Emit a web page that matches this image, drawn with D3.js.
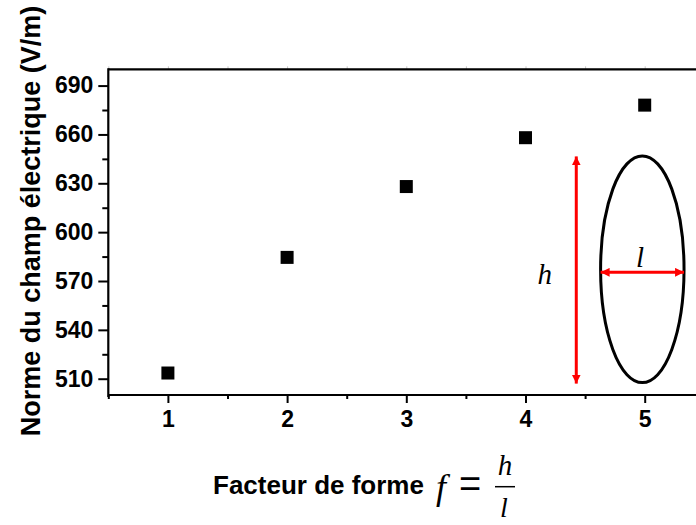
<!DOCTYPE html>
<html>
<head>
<meta charset="utf-8">
<script src="https://cdn.jsdelivr.net/npm/d3@7"></script>
<style>
  body { margin: 0; background: #fff; }
  text { font-family: "Liberation Sans", Arial, sans-serif; }
  .math { font-family: "Liberation Serif", "Times New Roman", serif; font-style: italic; }
</style>
</head>
<body>
<svg id="chart" width="696" height="525"></svg>
<script>
// data
var factors = [1, 2, 3, 4, 5];
var fieldNorm = [513.5, 584.5, 628, 658, 678];
var xTicks = [1, 2, 3, 4, 5];
var xMinor = [0.5, 1.5, 2.5, 3.5, 4.5, 5.5];
var yTicks = [510, 540, 570, 600, 630, 660, 690];
var yMinor = [525, 555, 585, 615, 645, 675];

document.addEventListener("DOMContentLoaded", function(event) {
  var svg = d3.select("#chart");
  var left = 108.3, right = 704.3, top = 69.3, bottom = 395;

  var x = d3.scaleLinear().domain([0.5, 5.5]).range([left, right]);
  var y = d3.scaleLinear().domain([500, 700]).range([bottom, top]);

  // arrow head for the ellipse sketch
  svg.append("defs").append("marker")
    .attr("id", "head")
    .attr("markerUnits", "userSpaceOnUse")
    .attr("markerWidth", 10).attr("markerHeight", 9)
    .attr("refX", 9).attr("refY", 4.5)
    .attr("orient", "auto-start-reverse")
    .append("path")
    .attr("d", "M0,0 L9,4.5 L0,9 z")
    .attr("fill", "#ff0000");

  // bottom axis, major then minor ticks
  var xAxis = svg.append("g")
    .attr("transform", "translate(0," + bottom + ")")
    .call(d3.axisBottom(x).tickValues(xTicks).tickSize(8).tickPadding(8).tickFormat(d3.format("d")));
  xAxis.select(".domain").remove();
  xAxis.selectAll("line").attr("stroke-width", 2);
  xAxis.selectAll("text")
    .attr("font-size", 23).attr("font-weight", "bold")
    .attr("font-family", "Liberation Sans, Arial, sans-serif").attr("fill", "#000");

  var xAxisMinor = svg.append("g")
    .attr("transform", "translate(0," + bottom + ")")
    .call(d3.axisBottom(x).tickValues(xMinor).tickSize(4).tickFormat(""));
  xAxisMinor.select(".domain").remove();
  xAxisMinor.selectAll("line").attr("stroke-width", 2);

  // left axis
  var yAxis = svg.append("g")
    .attr("transform", "translate(" + left + ",0)")
    .call(d3.axisLeft(y).tickValues(yTicks).tickSize(10).tickPadding(5));
  yAxis.select(".domain").remove();
  yAxis.selectAll("line").attr("stroke-width", 2);
  yAxis.selectAll("text")
    .attr("font-size", 23).attr("font-weight", "bold")
    .attr("font-family", "Liberation Sans, Arial, sans-serif").attr("fill", "#000");

  var yAxisMinor = svg.append("g")
    .attr("transform", "translate(" + left + ",0)")
    .call(d3.axisLeft(y).tickValues(yMinor).tickSize(6).tickFormat(""));
  yAxisMinor.select(".domain").remove();
  yAxisMinor.selectAll("line").attr("stroke-width", 2);

  // faint ticks on the top edge
  var topTicks = svg.append("g")
    .attr("transform", "translate(0," + top + ")")
    .call(d3.axisTop(x).tickValues(xMinor.concat(xTicks)).tickSize(3).tickFormat(""));
  topTicks.select(".domain").remove();
  topTicks.selectAll("line").attr("stroke", "#c8c8c8");

  // frame lines
  svg.append("line")
    .attr("x1", left).attr("x2", right).attr("y1", bottom).attr("y2", bottom)
    .attr("stroke", "#000").attr("stroke-width", 2.2);
  svg.append("line")
    .attr("x1", left).attr("x2", right).attr("y1", top).attr("y2", top)
    .attr("stroke", "#000").attr("stroke-width", 2.2);
  svg.append("line")
    .attr("x1", left).attr("x2", left).attr("y1", top - 1).attr("y2", bottom + 2)
    .attr("stroke", "#000").attr("stroke-width", 2.2);

  // the points
  svg.selectAll(".pt")
    .data(factors)
    .enter()
    .append("rect")
    .attr("class", "pt")
    .attr("x", function(d) { return x(d) - 6.5; })
    .attr("y", function(d, i) { return y(fieldNorm[i]) - 6.5; })
    .attr("width", 13)
    .attr("height", 13)
    .attr("fill", "#000");

  // ellipse sketch with h and l
  var cx = 4.98, cy = 577.2, rx = 0.35, ry = 69.6;
  svg.append("ellipse")
    .attr("cx", x(cx)).attr("cy", y(cy))
    .attr("rx", x(cx + rx) - x(cx)).attr("ry", y(cy - ry) - y(cy))
    .attr("fill", "none").attr("stroke", "#000").attr("stroke-width", 3);

  svg.append("line")
    .attr("x1", x(4.426)).attr("x2", x(4.426))
    .attr("y1", y(646.5)).attr("y2", y(507))
    .attr("stroke", "#ff0000").attr("stroke-width", 3)
    .attr("marker-start", "url(#head)").attr("marker-end", "url(#head)");

  svg.append("line")
    .attr("x1", x(cx - rx)).attr("x2", x(cx + rx))
    .attr("y1", y(575.3)).attr("y2", y(575.3))
    .attr("stroke", "#ff0000").attr("stroke-width", 3)
    .attr("marker-start", "url(#head)").attr("marker-end", "url(#head)");

  svg.append("text").attr("class", "math")
    .attr("x", x(4.10)).attr("y", y(568.2))
    .attr("font-size", 29).text("h");
  svg.append("text").attr("class", "math")
    .attr("x", x(4.96)).attr("y", y(578.8))
    .attr("text-anchor", "middle")
    .attr("font-size", 29).text("l");

  // axis titles
  svg.append("text")
    .attr("transform", "translate(40,221) rotate(-90)")
    .attr("text-anchor", "middle")
    .attr("font-size", 27).attr("font-weight", "bold")
    .text("Norme du champ électrique (V/m)");

  svg.append("text")
    .attr("x", 213).attr("y", 494)
    .attr("font-size", 26).attr("font-weight", "bold")
    .text("Facteur de forme");

  svg.append("text").attr("class", "math")
    .attr("x", 436).attr("y", 499)
    .attr("font-size", 36).text("f");
  svg.append("text")
    .attr("x", 459).attr("y", 497)
    .attr("font-family", "Liberation Serif, serif")
    .attr("font-size", 38).text("=");
  svg.append("text").attr("class", "math")
    .attr("x", 505).attr("y", 475)
    .attr("text-anchor", "middle")
    .attr("font-size", 29).text("h");
  svg.append("line")
    .attr("x1", 495).attr("x2", 515).attr("y1", 486.7).attr("y2", 486.7)
    .attr("stroke", "#000").attr("stroke-width", 1.5);
  svg.append("text").attr("class", "math")
    .attr("x", 504).attr("y", 517)
    .attr("text-anchor", "middle")
    .attr("font-size", 28).text("l");
});
</script>
</body>
</html>
